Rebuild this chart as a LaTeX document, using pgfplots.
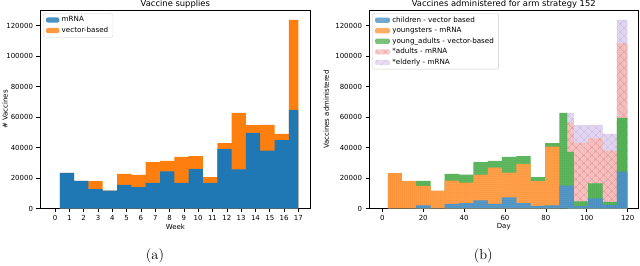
\documentclass[border=0pt]{standalone}
\usepackage{fontspec}
\usepackage{pgfplots}
\usepackage{pgfplotstable}
\pgfplotsset{compat=1.18}
\usetikzlibrary{patterns.meta}
\newfontfamily\dejavu{DejaVu Sans}

\definecolor{mplblue}{RGB}{31,119,180}
\definecolor{mplorange}{RGB}{255,127,14}
\definecolor{rblue}{RGB}{76,146,195}
\definecolor{rbluest}{RGB}{55,125,180}
\definecolor{rorange}{RGB}{255,153,62}
\definecolor{rorangest}{RGB}{238,132,40}
\definecolor{rgreen}{RGB}{86,179,86}
\definecolor{rgreenst}{RGB}{60,150,60}
\definecolor{rpink}{RGB}{245,192,192}
\definecolor{rpinkh}{RGB}{228,140,140}
\definecolor{rpinkst}{RGB}{236,170,170}
\definecolor{rlav}{RGB}{226,214,240}
\definecolor{rlavh}{RGB}{200,180,225}
\definecolor{rlavst}{RGB}{212,198,230}

\pgfplotstableread{
x total mrna
0.333 23300 23300
1.333 18100 18100
2.333 17900 12700
3.333 11800 11800
4.333 22700 15500
5.333 22100 14000
6.333 30400 16800
7.333 31300 24300
8.333 33900 16800
9.333 34300 26000
10.333 20500 16800
11.333 42800 39100
12.333 62700 25600
13.333 54600 49600
14.333 54900 38000
15.333 49000 44800
16.333 123700 64700
17 0 0
}\leftdata

\pgfplotstableread{
x blue orange green pink lav
2.7 0 23200 0 0 0
9.6 0 18100 0 0 0
16.6 2100 14800 18100 0 0
23.6 0 11800 0 0 0
30.5 3100 18200 22700 0 0
37.6 3600 16900 22200 0 0
44.6 5400 22200 30400 0 0
51.6 3100 26800 31300 0 0
58.5 7300 23500 33900 0 0
65.6 3600 29200 34300 0 0
72.6 1800 18000 20500 0 0
79.6 2000 40500 42800 0 0
86.6 15000 0 62700 0 0
90.5 15000 0 37200 56500 62700
93.7 1600 0 4700 43000 54600
100.7 6700 0 16500 46000 54900
107.7 2300 0 4300 37900 49000
114.7 24100 0 59500 108300 123700
119.8 0 0 0 0 0
}\rightdata

\pgfplotsset{
  mpl/.style={
    scale only axis, anchor=south west,
    axis line style={line width=0.6bp},
    tick align=outside, tick pos=left, major tick length=3.5bp,
    every tick/.style={black, line width=0.6bp},
    tick label style={font=\dejavu\fontsize{7}{8}\selectfont},
    /pgf/number format/assume math mode=true,
    scaled y ticks=false,
    y tick label style={/pgf/number format/fixed, /pgf/number format/1000 sep={}},
    label style={font=\dejavu\fontsize{7}{8}\selectfont},
    xlabel style={at={(axis description cs:0.5,0)}, anchor=center, yshift=-18.2bp},
    every axis title shift=0pt,
    title style={font=\dejavu\fontsize{8.4}{10}\selectfont, at={(0.5,1)}, anchor=base, yshift=4bp, inner sep=0pt},
    ymin=0, ymax=129700, ytick={0,20000,...,120000},
    height=197.8bp,
    legend cell align=left,
    legend style={at={(axis description cs:0,1)}, anchor=north west, xshift=3.3bp, yshift=-2.6bp,
      font=\dejavu\fontsize{7.2}{8.5}\selectfont, draw=black!20, rounded corners=2bp,
      fill=white, fill opacity=0.8, text opacity=1, inner xsep=2.5bp, inner ysep=2bp,
      row sep=1.3bp, nodes={inner xsep=2.3bp, inner ysep=1.2bp}},
  },
  leftimg/.style={legend image code/.code={\path[##1] (0bp,-2.6bp) rectangle (13.4bp,2.6bp);}},
  rightimg/.style={legend image code/.code={\path[##1] (0bp,-2.6bp) rectangle (15bp,2.6bp);}},
  sblue/.style={fill=rblue, draw=none, postaction={pattern={Lines[angle=90,distance=2.05bp,line width=0.35bp]}, pattern color=rbluest}},
  sorange/.style={fill=rorange, draw=none, postaction={pattern={Lines[angle=90,distance=2.05bp,line width=0.35bp]}, pattern color=rorangest}},
  sgreen/.style={fill=rgreen, draw=none, postaction={pattern={Lines[angle=90,distance=2.05bp,line width=0.35bp]}, pattern color=rgreenst}},
  spink/.style={fill=rpink, draw=none, postaction={pattern={Lines[angle=90,distance=2.05bp,line width=0.35bp]}, pattern color=rpinkst}, postaction={pattern={Hatch[angle=45,distance=6bp,line width=0.4bp]}, pattern color=rpinkh}},
  slav/.style={fill=rlav, draw=none, postaction={pattern={Lines[angle=90,distance=2.05bp,line width=0.35bp]}, pattern color=rlavst}, postaction={pattern={Hatch[angle=45,distance=6bp,line width=0.4bp]}, pattern color=rlavh}},
}

\begin{document}
\begin{tikzpicture}
\useasboundingbox (0,0) rectangle (640bp,266bp);

\begin{axis}[mpl, leftimg, at={(40bp,57.5bp)}, width=270.7bp,
  xmin=-1.05, xmax=17.86, xtick={0,...,17},
  title={Vaccine supplies}, xlabel={Week}, ylabel={\# Vaccines},
  ylabel style={at={(axis description cs:-0.129,0.5)}, anchor=center}]
\addplot[ybar interval, fill=mplorange, draw=none, forget plot] table[x=x,y=total] {\leftdata};
\addplot[ybar interval, fill=mplblue, draw=none, forget plot] table[x=x,y=mrna] {\leftdata};
\addlegendimage{fill=mplblue, draw=none}
\addlegendentry{mRNA}
\addlegendimage{fill=mplorange, draw=none}
\addlegendentry{vector-based}
\end{axis}

\begin{axis}[mpl, rightimg, at={(369bp,57.5bp)}, width=269.5bp,
  xmin=-6.5, xmax=125.3, xtick={0,20,...,120},
  title={Vaccines administered for arm strategy 152}, xlabel={Day}, ylabel={Vaccines administered},
  ylabel style={at={(axis description cs:-0.159,0.5)}, anchor=center}]
\addplot[ybar interval, slav, forget plot] table[x=x,y=lav] {\rightdata};
\addplot[ybar interval, spink, forget plot] table[x=x,y=pink] {\rightdata};
\addplot[ybar interval, sgreen, forget plot] table[x=x,y=green] {\rightdata};
\addplot[ybar interval, sorange, forget plot] table[x=x,y=orange] {\rightdata};
\addplot[ybar interval, sblue, forget plot] table[x=x,y=blue] {\rightdata};
\addlegendimage{sblue}
\addlegendentry{children - vector based}
\addlegendimage{sorange}
\addlegendentry{youngsters - mRNA}
\addlegendimage{sgreen}
\addlegendentry{young\_adults - vector-based}
\addlegendimage{spink}
\addlegendentry{*adults - mRNA}
\addlegendimage{slav}
\addlegendentry{*elderly - mRNA}
\end{axis}

\node[font=\fontsize{14.5}{16}\selectfont] at (155bp,10bp) {(a)};
\node[font=\fontsize{14.5}{16}\selectfont] at (483.3bp,10bp) {(b)};
\end{tikzpicture}
\end{document}
